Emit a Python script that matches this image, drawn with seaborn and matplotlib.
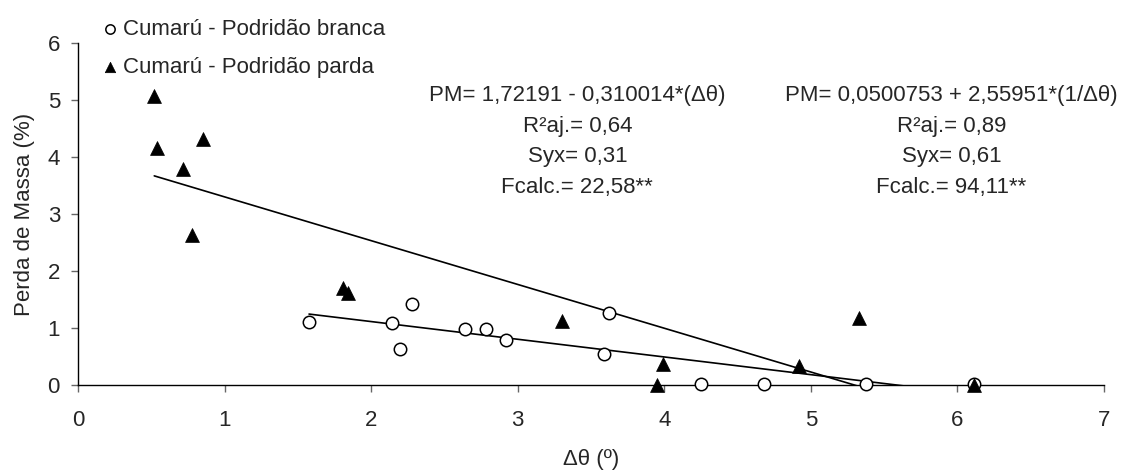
import matplotlib
matplotlib.use("Agg")
import matplotlib.pyplot as plt
import seaborn as sns
import pandas as pd

# Data

branca_x = [1.576, 2.14, 2.20, 2.28, 2.64, 2.78, 2.92, 3.59, 3.62, 4.25, 4.68, 5.375, 6.11]
branca_y = [1.10, 1.08, 0.64, 1.42, 0.98, 0.98, 0.79, 0.54, 1.26, 0.01, 0.01, 0.01, 0.01]

parda_x = [0.52, 0.537, 0.714, 0.855, 0.78, 1.81, 1.84, 3.30, 3.99, 3.95, 4.92, 5.33, 6.11]
parda_y = [5.07, 4.16, 3.79, 4.32, 2.64, 1.70, 1.61, 1.12, 0.36, 0.0, 0.33, 1.17, 0.0]

labels = ["Cumarú - Podridão branca", "Cumarú - Podridão parda"]

eq_branca = [
    "PM= 1,72191 - 0,310014*(\u0394\u03b8)",
    "R\u00b2aj.= 0,64",
    "Syx= 0,31",
    "Fcalc.= 22,58**",
]
eq_parda = [
    "PM= 0,0500753 + 2,55951*(1/\u0394\u03b8)",
    "R\u00b2aj.= 0,89",
    "Syx= 0,61",
    "Fcalc.= 94,11**",
]

xticks = [0, 1, 2, 3, 4, 5, 6, 7]
yticks = [0, 1, 2, 3, 4, 5, 6]

df_b = pd.DataFrame({"x": branca_x, "y": branca_y})
df_p = pd.DataFrame({"x": parda_x, "y": parda_y})

#Style

sns.set_style("ticks")
plt.rcParams["font.family"] = ["Liberation Sans", "DejaVu Sans"]
fs = 16

fig = plt.figure(figsize=(11.41, 4.72), dpi=100)
ax = fig.add_axes([0.0684, 0.1843, 0.8992, 0.7246])

#Trend lines (linear fits, clipped at the x axis)

for d in (df_b, df_p):
    sns.regplot(
        data=d, x="x", y="y", ax=ax,
        scatter=False, ci=None, truncate=True,
        line_kws={"color": "black", "linewidth": 1.2},
    )

#Points

sns.scatterplot(
    data=df_b, x="x", y="y", ax=ax,
    marker="o", s=80, facecolor="white", edgecolor="black",
    linewidth=1.1, clip_on=False, zorder=5, label=labels[0],
)
sns.scatterplot(
    data=df_p, x="x", y="y", ax=ax,
    marker="^", s=100, color="black", edgecolor="black",
    linewidth=0.5, clip_on=False, zorder=5, label=labels[1],
)

ax.set_xlim(0, 7)
ax.set_ylim(0, 6)
ax.set_xticks(xticks)
ax.set_yticks(yticks)
ax.tick_params(labelsize=fs, length=5, width=1, color="#666666")
ax.tick_params(axis="x", pad=13)
ax.tick_params(axis="y", pad=8)
for s in ("left", "bottom"):
    ax.spines[s].set_linewidth(1)
    ax.spines[s].set_color("black")
sns.despine(ax=ax)

ax.set_xlabel("\u0394\u03b8 (\u00ba)", fontsize=fs, labelpad=13)
ax.set_ylabel("Perda de Massa (%)", fontsize=fs, labelpad=9)

#Legend

ax.get_legend().remove()
leg = fig.legend(
    *ax.get_legend_handles_labels(),
    loc="upper left", bbox_to_anchor=(0.075, 0.998),
    frameon=False, fontsize=fs, handlelength=0.6,
    handletextpad=0.3, labelspacing=0.78, borderpad=0.3,
    markerscale=0.75,
)

#Equations

for i, (a, b) in enumerate(zip(eq_branca, eq_parda)):
    yy = 0.797 - i * 0.0645
    fig.text(0.506, yy, a, ha="center", va="center", fontsize=fs)
    fig.text(0.834, yy, b, ha="center", va="center", fontsize=fs)

fig.savefig("out.png", dpi=100)
